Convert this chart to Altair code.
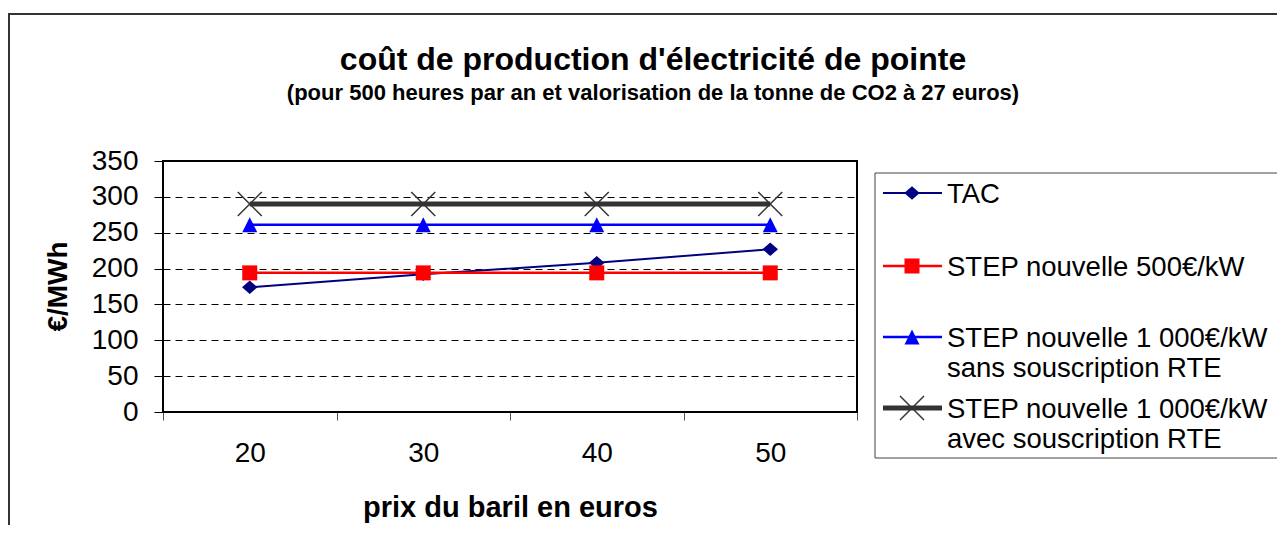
import altair as alt
import pandas as pd

# ---- data ----
prix = ["20", "30", "40", "50"]
series = [
    "TAC",
    "STEP nouvelle 500€/kW",
    "STEP nouvelle 1 000€/kW\nsans souscription RTE",
    "STEP nouvelle 1 000€/kW\navec souscription RTE",
]
tac = [174, 192, 208, 227]
step_500 = [194, 194, 194, 194]
step_1000_sans = [261, 261, 261, 261]
step_1000_avec = [290, 290, 290, 290]
y_ticks = [0, 50, 100, 150, 200, 250, 300, 350]
title_text = "coût de production d'électricité de pointe"
subtitle_text = "(pour 500 heures par an et valorisation de la tonne de CO2 à 27 euros)"

values = [tac, step_500, step_1000_sans, step_1000_avec]

rows = []
for s, vals in zip(series, values):
    for p, v in zip(prix, vals):
        rows.append({"prix": p, "serie": s, "valeur": v})
df = pd.DataFrame(rows)

# ---- styles ----
FONT = "Liberation Sans"
styles = [
    dict(color="#000080", width=2, shape="M-1,0L0,-0.87L1,0L0,0.87Z", size=240, filled=True, sw=0),
    dict(color="#FF0000", width=2.5, shape="square", size=225, filled=True, sw=0),
    dict(color="#0000FF", width=2.5, shape="M-1,1L1,1L0,-1Z", size=225, filled=True, sw=0),
    dict(color="#333333", width=5, shape="M-1,-1L1,1M-1,1L1,-1", size=576, filled=False, sw=1.5),
]

W, H = 694, 251

x_enc = alt.X(
    "prix:O",
    sort=prix,
    bandPosition=0.5,
    scale=alt.Scale(type="band", paddingInner=0, paddingOuter=0),
    axis=alt.Axis(
        title="prix du baril en euros",
        labelAngle=0,
        labelFont=FONT,
        labelFontSize=28,
        labelColor="black",
        labelPadding=19,
        tickBand="extent",
        tickSize=8,
        tickColor="#555555",
        tickWidth=1,
        domain=False,
        grid=False,
        titleFont=FONT,
        titleFontSize=29,
        titleFontWeight="bold",
        titleColor="black",
        titleX=347,
        titleY=104,
        titleBaseline="alphabetic",
        titleAlign="center",
    ),
)
y_enc = alt.Y(
    "valeur:Q",
    scale=alt.Scale(domain=[0, 350], nice=False, zero=True),
    axis=alt.Axis(
        title="€/MWh",
        values=y_ticks,
        labelFont=FONT,
        labelFontSize=28,
        labelColor="black",
        labelPadding=16,
        tickSize=9,
        tickColor="black",
        tickWidth=1,
        domain=False,
        grid=True,
        gridColor="black",
        gridDash=[7, 5],
        gridWidth=1,
        titleFont=FONT,
        titleFontSize=28,
        titleFontWeight="bold",
        titleColor="black",
        titleAngle=-90,
        titleX=-97,
        titleY=125,
        titleBaseline="alphabetic",
        titleAlign="center",
    ),
)

one_row = pd.DataFrame({"k": [0]})
layers = []

# outer frame of the chart
layers.append(
    alt.Chart(one_row).mark_rect(fillOpacity=0, stroke="#333333", strokeWidth=2).encode(
        x=alt.value(-154), x2=alt.value(1135), y=alt.value(-147), y2=alt.value(385)
    )
)

# titles
layers.append(
    alt.Chart(pd.DataFrame({"t": [title_text]})).mark_text(
        align="center", baseline="alphabetic", font=FONT, fontSize=32,
        fontWeight="bold", color="black",
    ).encode(x=alt.value(490), y=alt.value(-91), text="t:N")
)
layers.append(
    alt.Chart(pd.DataFrame({"t": [subtitle_text]})).mark_text(
        align="center", baseline="alphabetic", font=FONT, fontSize=22,
        fontWeight="bold", color="black",
    ).encode(x=alt.value(490), y=alt.value(-61), text="t:N")
)

for s, st in zip(series, styles):
    base = alt.Chart(df).transform_filter(alt.datum.serie == s)
    layers.append(
        base.mark_line(color=st["color"], strokeWidth=st["width"]).encode(x=x_enc, y=y_enc)
    )
    layers.append(
        base.mark_point(
            shape=st["shape"], size=st["size"], filled=st["filled"], color=st["color"],
            opacity=1, strokeWidth=st["sw"] if not st["filled"] else 0,
        ).encode(x=x_enc, y=y_enc)
    )

# plot-area border
layers.append(
    alt.Chart(one_row).mark_rect(fillOpacity=0, stroke="black", strokeWidth=2).encode(
        x=alt.value(0), x2=alt.value(W), y=alt.value(0), y2=alt.value(H)
    )
)

# legend box
layers.append(
    alt.Chart(one_row).mark_rect(fill="white", stroke="#444444", strokeWidth=1).encode(
        x=alt.value(712), x2=alt.value(1120), y=alt.value(12), y2=alt.value(297)
    )
)

leg_y = [32, 105, 176, 247]
for s, st, yy in zip(series, styles, leg_y):
    one = alt.Chart(pd.DataFrame({"serie": [s]}))
    layers.append(
        one.mark_rule(color=st["color"], strokeWidth=st["width"]).encode(
            x=alt.value(720), x2=alt.value(779), y=alt.value(yy)
        )
    )
    layers.append(
        one.mark_point(
            shape=st["shape"], size=st["size"], filled=st["filled"], color=st["color"],
            opacity=1, strokeWidth=st["sw"] if not st["filled"] else 0,
        ).encode(x=alt.value(749), y=alt.value(yy))
    )
    layers.append(
        one.mark_text(
            align="left", baseline="alphabetic", font=FONT, fontSize=27.5,
            color="black", lineBreak="\n", lineHeight=30,
        ).encode(x=alt.value(784), y=alt.value(yy + 10), text="serie:N")
    )

chart = alt.layer(*layers).properties(
    width=W,
    height=H,
    autosize=alt.AutoSizeParams(type="none"),
    padding={"left": 155, "top": 153, "right": 420, "bottom": 113},
).configure_view(stroke=None).configure(background="white")

chart.save("out.html", embed_options={"renderer": "svg", "actions": False})
